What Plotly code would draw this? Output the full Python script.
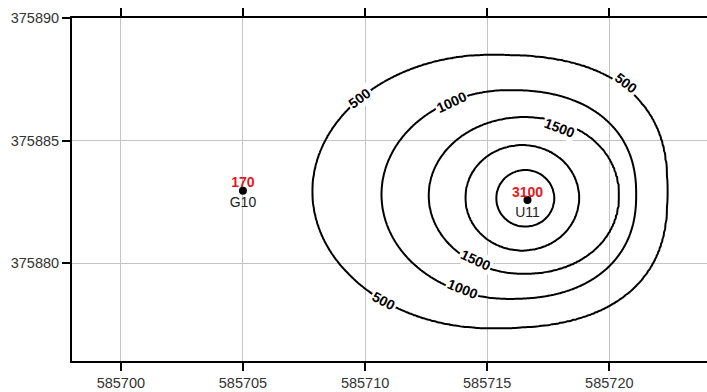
import numpy as np
import plotly.graph_objects as go

# ---- data ----
well_names = ["G10", "U11"]
well_x = [585705.0, 585716.65]
well_y = [375882.95, 375882.57]
well_values = [170, 3100]

contour_levels = [500, 1000, 1500, 2000, 2500]
# extents of each contour line (data units)
level_left = [585707.85, 585710.67, 585712.60, 585714.10, 585715.37]
level_right = [585722.37, 585721.10, 585720.41, 585718.77, 585717.75]
level_top = [375888.49, 375887.06, 375885.96, 375884.82, 375883.80]
level_bottom = [375877.35, 375878.53, 375879.55, 375880.50, 375881.48]
# squareness of each contour (left / right side)
level_p_left = [2.0, 2.0, 2.0, 2.0, 2.0]
level_p_right = [2.55, 2.3, 2.1, 2.0, 2.0]

# contour labels shown in the picture (value per label)
label_values = [500, 1000, 500, 1500, 1500, 1000, 500]

x_ticks = [585700, 585705, 585710, 585715, 585720]
y_ticks = [375880, 375885, 375890]

# ---- layout-only placement of contour labels (x, y, angle) ----
label_layout = [
    (585709.79, 375886.72, -36),
    (585713.55, 375886.56, -25),
    (585720.68, 375887.33, 38),
    (585717.98, 375885.52, 21),
    (585714.53, 375880.12, 25),
    (585714.00, 375878.93, 22),
    (585710.77, 375878.46, 28),
]

# ---- grid for the contour engine, built from the read contour extents ----
gx = np.arange(585698.0, 585724.001, 0.06)
gy = np.arange(375876.0, 375890.001, 0.06)
X, Y = np.meshgrid(gx, gy)

S = []
for k in range(len(contour_levels)):
    cx = 0.5 * (level_left[k] + level_right[k])
    cy = 0.5 * (level_top[k] + level_bottom[k])
    a = 0.5 * (level_right[k] - level_left[k])
    b = 0.5 * (level_top[k] - level_bottom[k])
    dx = (X - cx) / a
    dy = (Y - cy) / b
    p = np.where(dx < 0, level_p_left[k], level_p_right[k])
    S.append((np.abs(dx) ** p + np.abs(dy) ** p) ** (1.0 / p))

Z = np.full(X.shape, np.nan)
outer = S[0] > 1
Z[outer] = contour_levels[0] / S[0][outer]
for k in range(len(contour_levels) - 1):
    m = (S[k] <= 1) & (S[k + 1] > 1) & np.isnan(Z)
    step = contour_levels[k + 1] - contour_levels[k]
    Z[m] = contour_levels[k] + step * (1 - S[k][m]) / (S[k + 1][m] - S[k][m])
inner = (S[-1] <= 1) & np.isnan(Z)
Z[inner] = contour_levels[-1] + (well_values[1] - contour_levels[-1]) * (1 - S[-1][inner])
Z = np.where(np.isnan(Z), contour_levels[0], Z)

black = [[0, "black"], [1, "black"]]
font_family = "Liberation Sans, Arial, sans-serif"

fig = go.Figure()
fig.add_trace(go.Contour(
    x=gx, y=gy, z=Z,
    contours=dict(coloring="lines", start=contour_levels[0], end=contour_levels[-1],
                  size=contour_levels[1] - contour_levels[0], showlabels=False),
    line=dict(width=2, smoothing=1),
    colorscale=black, showscale=False, hoverinfo="skip",
))
# wells: marker + name below
fig.add_trace(go.Scatter(
    x=well_x, y=well_y, mode="markers+text",
    marker=dict(color="black", size=8),
    text=well_names, textposition="bottom center",
    textfont=dict(family=font_family, size=14, color="#222222"),
    hoverinfo="skip", showlegend=False,
))
# values above
fig.add_trace(go.Scatter(
    x=well_x, y=well_y, mode="text",
    text=["<b>%d</b>" % v for v in well_values], textposition="top center",
    textfont=dict(family=font_family, size=14, color="#e3191f"),
    hoverinfo="skip", showlegend=False,
))

for val, (lx, ly, ang) in zip(label_values, label_layout):
    fig.add_annotation(
        x=lx, y=ly, xref="x", yref="y", text="<b>%d</b>" % val, showarrow=False,
        textangle=ang, bgcolor="white", borderpad=1,
        font=dict(family=font_family, size=14, color="black"),
    )

axis_common = dict(
    showline=True, linecolor="black", linewidth=2,
    ticks="outside", ticklen=8, tickwidth=2, tickcolor="black",
    showgrid=True, gridcolor="#c4c4c4", gridwidth=1, zeroline=False,
    tickfont=dict(family=font_family, size=14.5, color="#333333"),
    tickformat="d",
)
fig.update_layout(
    width=707, height=392,
    margin=dict(l=72, r=0, t=18, b=31),
    paper_bgcolor="white", plot_bgcolor="white",
    showlegend=False,
    xaxis=dict(range=[585698, 585724], tickvals=x_ticks, mirror="ticks", **axis_common),
    yaxis=dict(range=[375876, 375890], tickvals=y_ticks, **axis_common),
)
fig.write_html("out.html", config={"displayModeBar": False},
               post_script="document.body.style.margin='0';document.body.style.overflow='hidden';")
